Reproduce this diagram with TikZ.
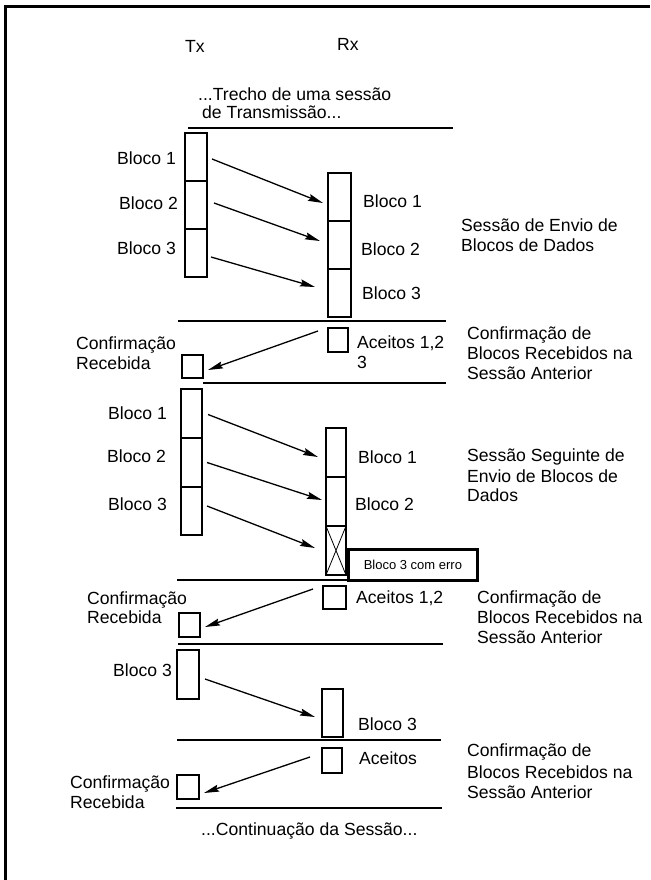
\documentclass[tikz,border=0pt]{standalone}
\usepackage{fontspec}
\setmainfont{Liberation Sans}
\usetikzlibrary{arrows.meta}
\begin{document}
\begin{tikzpicture}[x=1pt,y=-1pt,
  lbl/.style={anchor=base west, inner sep=0pt, font=\fontsize{17.6}{20}\selectfont},
  blk/.style={draw, line width=1.4pt, rectangle, inner sep=0pt, outer sep=0pt, anchor=north west},
  sep/.style={line width=2.6pt},
  arr/.style={line width=1.3pt, -{Stealth[length=15pt,width=7pt,inset=2pt]}},
  frame/.style={line width=3pt}]
\useasboundingbox (0,0) rectangle (650,880);

% outer frame (left and top edges)
\draw[frame] (5,880) -- (5,7) -- (650,7);

% column headings and opening caption
\node[lbl] (tx) at (185,53) {Tx};
\node[lbl] (rx) at (337,51) {Rx};
\node[lbl] (trA) at (198,101) {...Trecho de uma sessão};
\node[lbl] (trB) at (202,119) {de Transmissão...};

% session separators
\draw[sep] (188,128) -- (453,128);
\draw[sep] (178,321) -- (446,321);
\draw[sep] (203,383) -- (446,383);
\draw[sep] (177,580) -- (446,580);
\draw[sep] (178,644) -- (443,644);
\draw[sep] (177,740) -- (441,740);
\draw[sep] (176,808) -- (442,808);

% ---- first data session ----
\node[blk, minimum width=22pt, minimum height=48pt] (ta1) at (185,133) {};
\node[blk, minimum width=22pt, minimum height=48pt] (ta2) at (185,181) {};
\node[blk, minimum width=22pt, minimum height=48pt] (ta3) at (185,229) {};
\node[blk, minimum width=23pt, minimum height=48pt] (ra1) at (328,173) {};
\node[blk, minimum width=23pt, minimum height=48pt] (ra2) at (328,221) {};
\node[blk, minimum width=23pt, minimum height=48pt] (ra3) at (328,269) {};
\node[lbl] (lta1) at (117,164) {Bloco 1};
\node[lbl] (lta2) at (119,209) {Bloco 2};
\node[lbl] (lta3) at (117,254) {Bloco 3};
\node[lbl] (lra1) at (363,207) {Bloco 1};
\node[lbl] (lra2) at (361,255) {Bloco 2};
\node[lbl] (lra3) at (362,299) {Bloco 3};
\node[lbl] (sA1) at (461,231) {Sessão de Envio de};
\node[lbl] (sA2) at (461,251) {Blocos de Dados};
\draw[arr] ([shift={(5,2)}]ta1.east) -- ([shift={(-5,6)}]ra1.west);
\draw[arr] ([shift={(7,-2)}]ta2.east) -- ([shift={(-8,-4)}]ra2.west);
\draw[arr] ([shift={(4,4)}]ta3.east) -- ([shift={(-13,-6)}]ra3.west);

% ---- first acknowledgement ----
\node[blk, minimum width=20pt, minimum height=24pt] (rc1) at (328,328) {};
\node[blk, minimum width=21pt, minimum height=23pt] (tc1) at (182,355) {};
\node[lbl] (cA1) at (76,349) {Confirmação};
\node[lbl] (cA2) at (76,369) {Recebida};
\node[lbl] (acA1) at (357,348) {Aceitos 1,2};
\node[lbl] (acA2) at (357,368) {3};
\node[lbl] (kA1) at (467,339) {Confirmação de};
\node[lbl] (kA2) at (467,359) {Blocos Recebidos na};
\node[lbl] (kA3) at (467,379) {Sessão Anterior};
\draw[arr] ([shift={(-10,-9)}]rc1.west) -- ([shift={(5,3.5)}]tc1.east);

% ---- second data session ----
\node[blk, minimum width=21pt, minimum height=49pt] (tb1) at (181,389) {};
\node[blk, minimum width=21pt, minimum height=49pt] (tb2) at (181,438) {};
\node[blk, minimum width=21pt, minimum height=48pt] (tb3) at (181,487) {};
\node[blk, minimum width=20pt, minimum height=49pt] (rb1) at (326,428) {};
\node[blk, minimum width=20pt, minimum height=49pt] (rb2) at (326,477) {};
\node[blk, minimum width=20pt, minimum height=49pt] (rb3) at (326,526) {};
\draw[line width=0.8pt] (rb3.north west) -- (rb3.south east)
                        (rb3.north east) -- (rb3.south west);
\node[lbl] (ltb1) at (108,419) {Bloco 1};
\node[lbl] (ltb2) at (107,462) {Bloco 2};
\node[lbl] (ltb3) at (108,510) {Bloco 3};
\node[lbl] (lrb1) at (358,463) {Bloco 1};
\node[lbl] (lrb2) at (355,510) {Bloco 2};
\node[lbl] (sB1) at (467,461) {Sessão Seguinte de};
\node[lbl] (sB2) at (467,482) {Envio de Blocos de};
\node[lbl] (sB3) at (467,501) {Dados};
\node[draw, line width=2.8pt, rectangle, anchor=north west, inner sep=0pt,
      minimum width=129pt, minimum height=31pt,
      font=\fontsize{13}{15}\selectfont] (err) at (347,548) {Bloco 3 com erro};
\draw[arr] ([shift={(6,1)}]tb1.east) -- ([shift={(-8,4.5)}]rb1.west);
\draw[arr] ([shift={(5,0)}]tb2.east) -- ([shift={(-4,-1.5)}]rb2.west);
\draw[arr] ([shift={(5,-5)}]tb3.east) -- ([shift={(-11,-2.5)}]rb3.west);

% ---- second acknowledgement ----
\node[blk, minimum width=23pt, minimum height=23pt] (rc2) at (323,586) {};
\node[blk, minimum width=21pt, minimum height=24pt] (tc2) at (179,613) {};
\node[lbl] (cB1) at (87,604) {Confirmação};
\node[lbl] (cB2) at (87,623) {Recebida};
\node[lbl] (acB1) at (356,603) {Aceitos 1,2};
\node[lbl] (kB1) at (477,603) {Confirmação de};
\node[lbl] (kB2) at (477,623) {Blocos Recebidos na};
\node[lbl] (kB3) at (477,643) {Sessão Anterior};
\draw[arr] ([shift={(-10,-8.5)}]rc2.west) -- ([shift={(5,2)}]tc2.east);

% ---- retransmission of block 3 ----
\node[blk, minimum width=22pt, minimum height=49pt] (tc3) at (177,650) {};
\node[blk, minimum width=21pt, minimum height=48pt] (rd1) at (322,689) {};
\node[lbl] (ltc3) at (113,676) {Bloco 3};
\node[lbl] (lrd1) at (358,730) {Bloco 3};
\draw[arr] ([shift={(6,4.5)}]tc3.east) -- ([shift={(-7,4)}]rd1.west);

% ---- third acknowledgement ----
\node[blk, minimum width=20pt, minimum height=25pt] (rc3) at (322,748) {};
\node[blk, minimum width=22pt, minimum height=24pt] (tc4) at (177,775) {};
\node[lbl] (acC1) at (359,764) {Aceitos};
\node[lbl] (kC1) at (467,756) {Confirmação de};
\node[lbl] (kC2) at (467,778) {Blocos Recebidos na};
\node[lbl] (kC3) at (467,798) {Sessão Anterior};
\node[lbl] (cC1) at (70,788) {Confirmação};
\node[lbl] (cC2) at (70,808) {Recebida};
\draw[arr] ([shift={(-12,-3.5)}]rc3.west) -- ([shift={(5,6)}]tc4.east);

% closing caption
\node[lbl] (cont) at (201,835) {...Continuação da Sessão...};
\end{tikzpicture}
\end{document}
